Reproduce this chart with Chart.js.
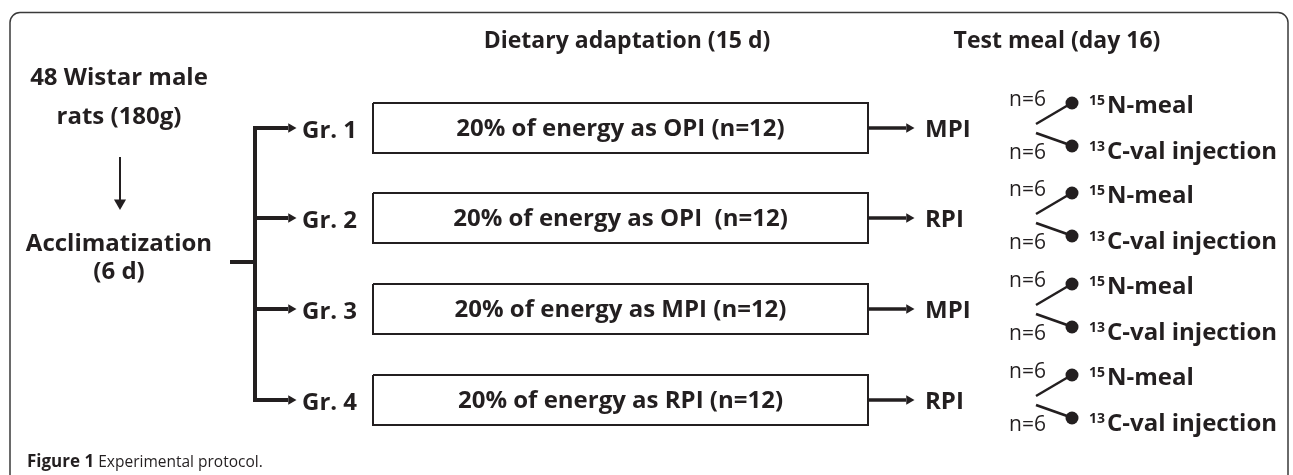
<!DOCTYPE html>
<html>
<head>
<meta charset="utf-8">
<script src="https://cdn.jsdelivr.net/npm/chart.js@4.4.1/dist/chart.umd.min.js"></script>
<style>
  html, body { margin: 0; padding: 0; background: #ffffff; }
  #wrap { width: 1293px; height: 475px; position: relative; }
</style>
</head>
<body>
<div id="wrap"><canvas id="protocol"></canvas></div>
<script>
// content of the protocol diagram
const startLines = ["48 Wistar male", "rats (180g)"];
const acclimLines = ["Acclimatization", "(6 d)"];
const headers = ["Dietary adaptation (15 d)", "Test meal (day 16)"];
const groups = ["Gr. 1", "Gr. 2", "Gr. 3", "Gr. 4"];
const diets = [
  "20% of energy as OPI (n=12)",
  "20% of energy as OPI  (n=12)",
  "20% of energy as MPI (n=12)",
  "20% of energy as RPI (n=12)"
];
const testMeals = ["MPI", "RPI", "MPI", "RPI"];
const subgroupN = ["n=6", "n=6"];
const tracerIso = ["15", "13"];
const tracerText = ["N-meal", "C-val injection"];
const captionBold = "Figure 1";
const captionText = " Experimental protocol";

// layout (pixel units of the hidden axes)
const rowY = [128, 218, 309, 400];
const leftX = 119;
const trunkX = 255;
const stubX = 230;
const stubY = 262;
const branchTip = 296;
const boxLeft = 373;
const boxRight = 868;
const boxHalf = 25;
const mealTip = 914;
const splitX = 1036;
const dotX = 1072;
const ink = "#231f20";
const FONT = "'Open Sans', sans-serif";

function seg(points, width) {
  return {
    data: points.map(p => ({ x: p[0], y: p[1] })),
    showLine: true,
    borderColor: ink,
    borderWidth: width,
    borderCapStyle: "butt",
    pointRadius: 0,
    clip: false
  };
}

const datasets = [];

// down arrow shaft
datasets.push(seg([[leftX + 1, 157], [leftX + 1, 203]], 2));
// stub from acclimatization to the trunk, and the trunk itself
datasets.push(seg([[stubX, stubY], [trunkX + 2, stubY]], 4));
datasets.push(seg([[trunkX, rowY[0] - 2], [trunkX, rowY[3] + 2]], 4));

const branchHeads = [];
const mealHeads = [];
const dots = [];
rowY.forEach((y, i) => {
  // branch to each group
  datasets.push(seg([[trunkX, y], [branchTip - 8, y]], 4));
  branchHeads.push({ x: branchTip - 5, y: y });
  // diet box
  datasets.push(seg([
    [boxLeft, y - boxHalf], [boxRight, y - boxHalf], [boxRight, y + boxHalf],
    [boxLeft, y + boxHalf], [boxLeft, y - boxHalf]
  ], 2));
  // box to test meal
  datasets.push(seg([[boxRight, y], [mealTip - 8, y]], 3.5));
  mealHeads.push({ x: mealTip - 5, y: y });
  // split into two subgroups
  datasets.push(seg([[splitX, y - 4], [dotX - 2, y - 24]], 2.5));
  datasets.push(seg([[splitX, y + 5], [dotX - 2, y + 17]], 2.8));
  dots.push({ x: dotX, y: y - 25 }, { x: dotX, y: y + 18 });
});

datasets.push({
  data: branchHeads.concat(mealHeads),
  pointStyle: "triangle", rotation: 90, pointRadius: 5.5,
  backgroundColor: ink, borderColor: ink, borderWidth: 0, clip: false
});
datasets.push({
  data: [{ x: leftX + 1, y: 203 }],
  pointStyle: "triangle", rotation: 180, pointRadius: 7,
  backgroundColor: ink, borderColor: ink, borderWidth: 0, clip: false
});
datasets.push({
  data: dots,
  pointStyle: "circle", pointRadius: 6.5,
  backgroundColor: ink, borderColor: ink, borderWidth: 0, clip: false
});

// frame and all the words
const diagramText = {
  id: "diagramText",
  beforeDatasetsDraw(chart) {
    const c = chart.ctx, sx = chart.scales.x, sy = chart.scales.y;
    c.save();
    c.strokeStyle = "#3a3a3a";
    c.lineWidth = 1.5;
    c.beginPath();
    c.roundRect(sx.getPixelForValue(10), sy.getPixelForValue(12.5), 1278, 500, 10);
    c.stroke();
    c.restore();
  },
  afterDatasetsDraw(chart) {
    const c = chart.ctx, sx = chart.scales.x, sy = chart.scales.y;
    const put = (str, x, y, font, align) => {
      c.font = font;
      c.textAlign = align || "left";
      c.fillText(str, sx.getPixelForValue(x), sy.getPixelForValue(y));
      return c.measureText(str).width;
    };
    c.save();
    c.fillStyle = ink;
    c.textBaseline = "alphabetic";
    const bold = "bold 24px " + FONT;

    put(startLines[0], leftX, 85, bold, "center");
    put(startLines[1], leftX, 124, bold, "center");
    put(acclimLines[0], leftX, 251, bold, "center");
    put(acclimLines[1], leftX, 279, bold, "center");
    put(headers[0], 627, 48, "bold 23px " + FONT, "center");
    put(headers[1], 1057, 48, "bold 23px " + FONT, "center");

    rowY.forEach((y, i) => {
      put(groups[i], 302, y + 10, bold);
      put(diets[i], (boxLeft + boxRight) / 2, y + 8, bold, "center");
      put(testMeals[i], 925, y + 9, bold);
      put(subgroupN[0], 1009, y - 22, "21px " + FONT);
      put(subgroupN[1], 1009, y + 31, "21px " + FONT);
      const ty = [y - 15, y + 31];
      ty.forEach((b, k) => {
        const w = put(tracerIso[k], 1089, b - 8, "bold 14px " + FONT);
        put(tracerText[k], 1089 + w + 2, b, bold);
      });
    });

    const w = put(captionBold, 27, 467, "bold 17px " + FONT);
    const w2 = put(captionText, 27 + w, 467, "15.5px " + FONT);
    put(".", 27 + w + w2, 467, "15.5px " + FONT);
    c.restore();
  }
};

new Chart(document.getElementById("protocol"), {
  type: "scatter",
  data: { datasets: datasets },
  options: {
    responsive: true,
    maintainAspectRatio: false,
    animation: false,
    events: [],
    layout: { padding: 0, autoPadding: false },
    plugins: { legend: { display: false }, tooltip: { enabled: false } },
    scales: {
      x: { type: "linear", min: 0, max: 1293, display: false },
      y: { type: "linear", min: 0, max: 475, reverse: true, display: false }
    }
  },
  plugins: [diagramText]
});
</script>
</body>
</html>
